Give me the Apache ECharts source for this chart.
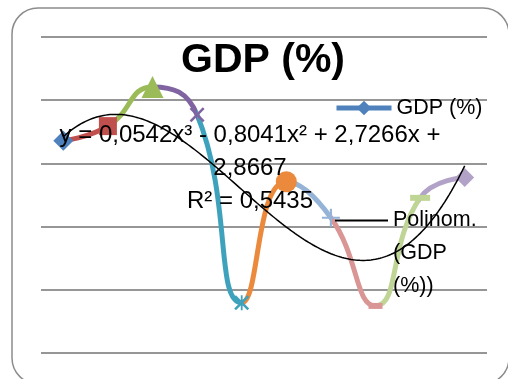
<!DOCTYPE html>
<html>
<head>
<meta charset="utf-8">
<script src="https://cdn.jsdelivr.net/npm/echarts@6/dist/echarts.min.js"></script>
<style>
  html, body { margin: 0; padding: 0; background: #ffffff; }
  #chart { width: 508px; height: 379px; }
</style>
</head>
<body>
<div id="chart"></div>
<script>
// Periods (Excel uses 1..n as x for the trendline)
var categories = ['1', '2', '3', '4', '5', '6', '7', '8', '9', '10'];
// GDP growth, %
var gdp = [4.72, 5.18, 6.42, 5.54, -0.41, 3.42, 2.28, -0.51, 2.91, 3.55];
// Cubic trendline coefficients: c3*x^3 + c2*x^2 + c1*x + c0
var trendCoef = [0.0542, -0.8041, 2.7266, 2.8667];
var trendR2 = 0.5435;
// Y axis ticks
var yTicks = [-2, 0, 2, 4, 6, 8];

// Per-point colours (vary colours by point)
var pointColors = ['#4F81BD', '#C0504D', '#9BBB59', '#8064A2', '#3FA2BC',
                   '#EB8A3C', '#95B3D7', '#D99694', '#BFD595', '#B3A2C7'];

var X_PATH = 'path://M0,1.2L1.2,0L5,3.8L8.8,0L10,1.2L6.2,5L10,8.8L8.8,10L5,6.2L1.2,10L0,8.8L3.8,5Z';
var STAR_PATH = 'path://M0,1.2L1.2,0L5,3.8L8.8,0L10,1.2L6.2,5L10,8.8L8.8,10L5,6.2L1.2,10L0,8.8L3.8,5Z M4.4,0L5.6,0L5.6,10L4.4,10Z';
var PLUS_PATH = 'path://M4.4,0L5.6,0L5.6,4.4L10,4.4L10,5.6L5.6,5.6L5.6,10L4.4,10L4.4,5.6L0,5.6L0,4.4L4.4,4.4Z';

var markers = [
  { symbol: 'diamond', symbolSize: 20 },
  { symbol: 'rect', symbolSize: 18 },
  { symbol: 'triangle', symbolSize: 22 },
  { symbol: X_PATH, symbolSize: 15 },
  { symbol: STAR_PATH, symbolSize: 15 },
  { symbol: 'circle', symbolSize: 21 },
  { symbol: PLUS_PATH, symbolSize: 18 },
  { symbol: 'rect', symbolSize: [14, 6] },
  { symbol: 'rect', symbolSize: [20, 6] },
  { symbol: 'diamond', symbolSize: 19 }
];

var gdpData = gdp.map(function (v, i) {
  return { value: v, symbol: markers[i].symbol, symbolSize: markers[i].symbolSize };
});

function trendAt(x) {
  return ((trendCoef[0] * x + trendCoef[1]) * x + trendCoef[2]) * x + trendCoef[3];
}
var trendData = [];
for (var k = 0; k <= 180; k++) {
  var x = 1 + k * 0.05;
  trendData.push([x, trendAt(x)]);
}

function fmt(n) {
  return Math.abs(n).toFixed(4).replace('.', ',');
}
var eqText = 'y = ' + fmt(trendCoef[0]) + 'x\u00B3 ' + (trendCoef[1] < 0 ? '- ' : '+ ') + fmt(trendCoef[1]) +
  'x\u00B2 ' + (trendCoef[2] < 0 ? '- ' : '+ ') + fmt(trendCoef[2]) + 'x ' + (trendCoef[3] < 0 ? '-' : '+') +
  '\n' + fmt(trendCoef[3]) + '\nR\u00B2 = ' + fmt(trendR2);

// colour each smoothed segment with the colour of the point it leads to
var pieces = [{ lte: 0, color: pointColors[0] }];
for (var p = 1; p < pointColors.length; p++) {
  pieces.push({ gt: p - 1, lte: p, color: pointColors[p] });
}

var FONT = 'Liberation Sans';
var chart = echarts.init(document.getElementById('chart'), null, { renderer: 'canvas' });
chart.setOption({
  animation: false,
  backgroundColor: '#ffffff',
  textStyle: { fontFamily: FONT },
  graphic: [{
    type: 'rect',
    z: -10,
    shape: { x: 12, y: 8, width: 497, height: 376, r: 26 },
    style: { fill: '#ffffff', stroke: '#8c8c8c', lineWidth: 1.5 }
  }],
  title: [{
    text: 'GDP (%)',
    left: 258,
    textAlign: 'center',
    top: 35,
    textStyle: { fontFamily: FONT, fontWeight: 'bold', fontSize: 41, color: '#000000' }
  }, {
    text: eqText,
    left: 245,
    textAlign: 'center',
    top: 114,
    textStyle: { fontFamily: FONT, fontWeight: 'normal', fontSize: 24, lineHeight: 33, color: '#000000' }
  }],
  legend: [{
    data: ['GDP (%)'],
    left: 329,
    top: 92,
    itemWidth: 55,
    itemHeight: 18,
    lineStyle: { width: 5 },
    textStyle: { fontFamily: FONT, fontSize: 21.5, color: '#000000' }
  }, {
    data: ['Polinom. (GDP (%))'],
    left: 329,
    top: 133,
    itemWidth: 53,
    itemHeight: 14,
    itemStyle: { opacity: 0 },
    formatter: function () { return '\n\nPolinom.\n(GDP\n(%))'; },
    textStyle: { fontFamily: FONT, fontSize: 21.5, lineHeight: 33, color: '#000000' }
  }],
  grid: { left: 41, right: 21, top: 37, bottom: 26, containLabel: false },
  xAxis: [{
    type: 'category',
    data: categories,
    boundaryGap: true,
    axisLine: { show: false },
    axisTick: { show: false },
    axisLabel: { show: false }
  }, {
    type: 'value',
    min: 0.5,
    max: 10.5,
    show: false
  }],
  yAxis: {
    type: 'value',
    min: yTicks[0],
    max: yTicks[yTicks.length - 1],
    interval: 2,
    axisLine: { show: false },
    axisTick: { show: false },
    axisLabel: { show: false },
    splitLine: { lineStyle: { color: '#969696', width: 2 } }
  },
  visualMap: {
    type: 'piecewise',
    show: false,
    seriesIndex: 0,
    dimension: 0,
    pieces: pieces
  },
  series: [{
    name: 'GDP (%)',
    type: 'line',
    xAxisIndex: 0,
    data: gdpData,
    smooth: 0.5,
    symbol: 'diamond',
    symbolSize: 13,
    itemStyle: { color: pointColors[0] },
    lineStyle: { width: 5 },
    z: 2
  }, {
    name: 'Polinom. (GDP (%))',
    type: 'line',
    xAxisIndex: 1,
    data: trendData,
    showSymbol: false,
    symbol: 'none',
    itemStyle: { color: '#000000' },
    lineStyle: { color: '#000000', width: 1.5 },
    z: 3
  }]
});
</script>
</body>
</html>
